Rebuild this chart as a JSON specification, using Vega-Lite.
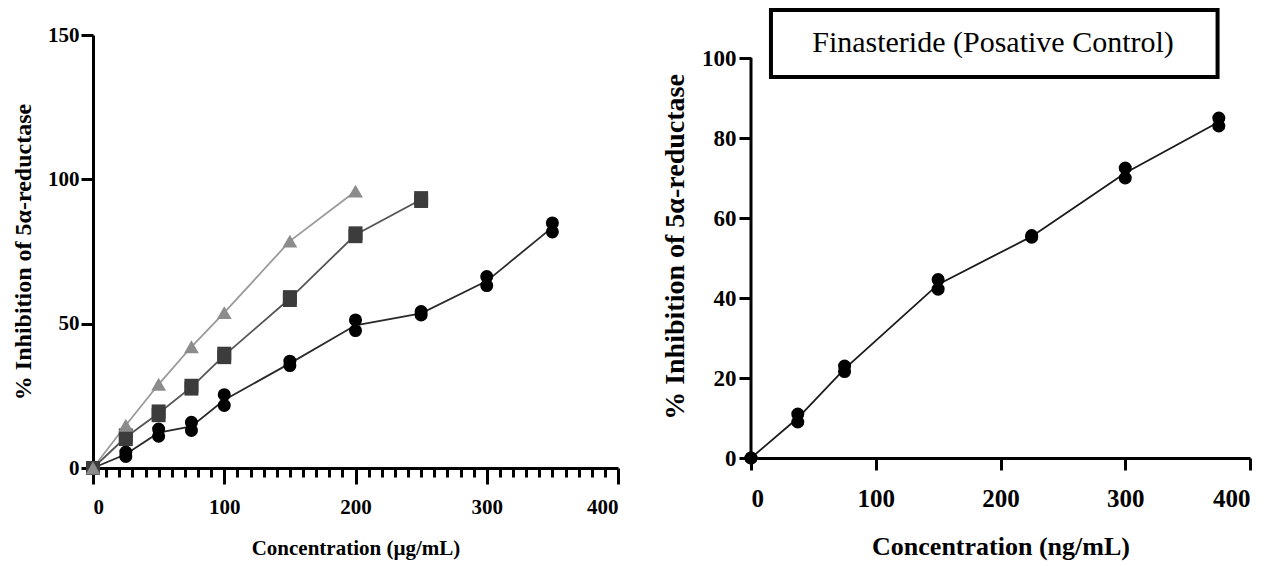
{
  "$schema": "https://vega.github.io/schema/vega-lite/v6.json",
  "background": "white",
  "padding": {"left": 11, "top": 8, "right": 5, "bottom": 2},
  "config": {
    "view": {"stroke": null},
    "font": "Liberation Serif",
    "axis": {
      "domainColor": "#000", "domainWidth": 3, "tickColor": "#000", "tickWidth": 3,
      "grid": false, "labelFont": "Liberation Serif", "labelFontWeight": "bold", "labelColor": "#000",
      "titleFont": "Liberation Serif", "titleFontWeight": "bold", "titleColor": "#000"
    }
  },
  "datasets": {
    "extracts": [
      {"conc": 0, "inhibition": 0, "series": "A"},
      {"conc": 0, "inhibition": 0, "series": "A"},
      {"conc": 25, "inhibition": 4, "series": "A"},
      {"conc": 25, "inhibition": 5.5, "series": "A"},
      {"conc": 50, "inhibition": 11, "series": "A"},
      {"conc": 50, "inhibition": 13.5, "series": "A"},
      {"conc": 75, "inhibition": 13, "series": "A"},
      {"conc": 75, "inhibition": 15.8, "series": "A"},
      {"conc": 100, "inhibition": 21.7, "series": "A"},
      {"conc": 100, "inhibition": 25.4, "series": "A"},
      {"conc": 150, "inhibition": 35.5, "series": "A"},
      {"conc": 150, "inhibition": 37, "series": "A"},
      {"conc": 200, "inhibition": 47.6, "series": "A"},
      {"conc": 200, "inhibition": 51.3, "series": "A"},
      {"conc": 250, "inhibition": 53, "series": "A"},
      {"conc": 250, "inhibition": 54.2, "series": "A"},
      {"conc": 300, "inhibition": 63.2, "series": "A"},
      {"conc": 300, "inhibition": 66.3, "series": "A"},
      {"conc": 350, "inhibition": 81.8, "series": "A"},
      {"conc": 350, "inhibition": 84.9, "series": "A"},
      {"conc": 0, "inhibition": 0, "series": "B"},
      {"conc": 25, "inhibition": 10, "series": "B"},
      {"conc": 25, "inhibition": 11.3, "series": "B"},
      {"conc": 50, "inhibition": 18.3, "series": "B"},
      {"conc": 50, "inhibition": 19.6, "series": "B"},
      {"conc": 75, "inhibition": 27.5, "series": "B"},
      {"conc": 75, "inhibition": 28.5, "series": "B"},
      {"conc": 100, "inhibition": 38.4, "series": "B"},
      {"conc": 100, "inhibition": 39.6, "series": "B"},
      {"conc": 150, "inhibition": 58.2, "series": "B"},
      {"conc": 150, "inhibition": 59.2, "series": "B"},
      {"conc": 200, "inhibition": 80.3, "series": "B"},
      {"conc": 200, "inhibition": 81.3, "series": "B"},
      {"conc": 250, "inhibition": 92.5, "series": "B"},
      {"conc": 250, "inhibition": 93.5, "series": "B"},
      {"conc": 0, "inhibition": 0, "series": "C"},
      {"conc": 25, "inhibition": 14.8, "series": "C"},
      {"conc": 50, "inhibition": 29, "series": "C"},
      {"conc": 75, "inhibition": 42, "series": "C"},
      {"conc": 100, "inhibition": 53.8, "series": "C"},
      {"conc": 150, "inhibition": 78.6, "series": "C"},
      {"conc": 200, "inhibition": 95.9, "series": "C"}
    ],
    "finasteride": [
      {"conc": 0, "inhibition": 0},
      {"conc": 0, "inhibition": 0},
      {"conc": 37.5, "inhibition": 9},
      {"conc": 37.5, "inhibition": 11},
      {"conc": 75, "inhibition": 21.6},
      {"conc": 75, "inhibition": 23},
      {"conc": 150, "inhibition": 42.2},
      {"conc": 150, "inhibition": 44.6},
      {"conc": 225, "inhibition": 55.2},
      {"conc": 225, "inhibition": 55.6},
      {"conc": 300, "inhibition": 70},
      {"conc": 300, "inhibition": 72.5},
      {"conc": 375, "inhibition": 83},
      {"conc": 375, "inhibition": 85}
    ],
    "box": [
      {"x0": 16, "x1": 374, "y0": 95.25, "y1": 112, "xm": 194, "ym": 103.8, "label": "Finasteride (Posative Control)"}
    ],
    "yaxis": [
      {"x": 0, "y0": 0, "y1": 100}
    ]
  },
  "hconcat": [
    {
      "width": 525,
      "height": 433,
      "data": {"name": "extracts"},
      "resolve": {"scale": {"color": "independent"}},
      "encoding": {
        "x": {
          "field": "conc", "type": "quantitative",
          "scale": {"domain": [0, 400], "nice": false},
          "axis": {
            "values": [0,10,20,30,40,50,60,70,80,90,100,110,120,130,140,150,160,170,180,190,200,210,220,230,240,250,260,270,280,290,300,310,320,330,340,350,360,370,380,390,400],
            "labelExpr": "datum.value % 100 === 0 ? datum.label : ''",
            "tickSize": {"condition": {"test": "datum.value % 100 === 0", "value": 16}, "value": 9},
            "labelFontSize": 21, "labelPadding": 12,
            "title": "Concentration (µg/mL)", "titleFontSize": 21, "titlePadding": 20
          }
        },
        "y": {
          "field": "inhibition", "type": "quantitative",
          "scale": {"domain": [0, 150], "nice": false},
          "axis": {
            "values": [0, 50, 100, 150], "tickSize": 12, "labelFontSize": 21, "labelPadding": 2,
            "title": "% Inhibition of 5α-reductase", "titleFontSize": 24, "titlePadding": 12
          }
        }
      },
      "layer": [
        {
          "mark": {"type": "line", "strokeWidth": 1.8},
          "encoding": {
            "y": {"aggregate": "mean", "field": "inhibition", "type": "quantitative"},
            "color": {
              "field": "series", "type": "nominal",
              "scale": {"domain": ["A", "B", "C"], "range": ["#2a2a2a", "#555555", "#9a9a9a"]},
              "legend": null
            }
          }
        },
        {
          "mark": {"type": "point", "filled": true, "opacity": 1},
          "encoding": {
            "color": {
              "field": "series", "type": "nominal",
              "scale": {"domain": ["A", "B", "C"], "range": ["#000000", "#3c3c3c", "#8c8c8c"]},
              "legend": null
            },
            "shape": {
              "field": "series", "type": "nominal",
              "scale": {"domain": ["A", "B", "C"], "range": ["circle", "square", "triangle-up"]},
              "legend": null
            },
            "size": {
              "field": "series", "type": "nominal",
              "scale": {"domain": ["A", "B", "C"], "range": [170, 220, 200]},
              "legend": null
            }
          }
        }
      ]
    },
    {
      "width": 499,
      "height": 423,
      "layer": [
        {
          "data": {"name": "yaxis"},
          "mark": {"type": "rule", "strokeWidth": 3, "color": "#000"},
          "encoding": {
            "x": {"field": "x", "type": "quantitative"},
            "y": {"field": "y0", "type": "quantitative"},
            "y2": {"field": "y1"}
          }
        },
        {
          "data": {"name": "finasteride"},
          "mark": {"type": "line", "strokeWidth": 1.8, "color": "#1a1a1a"},
          "encoding": {
            "x": {"field": "conc", "type": "quantitative"},
            "y": {"aggregate": "mean", "field": "inhibition", "type": "quantitative"}
          }
        },
        {
          "data": {"name": "finasteride"},
          "mark": {"type": "circle", "size": 170, "color": "#000", "opacity": 1},
          "encoding": {
            "x": {"field": "conc", "type": "quantitative"},
            "y": {"field": "inhibition", "type": "quantitative"}
          }
        },
        {
          "data": {"name": "box"},
          "mark": {"type": "rect", "fill": "white", "stroke": "#000", "strokeWidth": 4},
          "encoding": {
            "x": {"field": "x0", "type": "quantitative"},
            "x2": {"field": "x1"},
            "y": {"field": "y0", "type": "quantitative"},
            "y2": {"field": "y1"}
          }
        },
        {
          "data": {"name": "box"},
          "mark": {"type": "text", "font": "Liberation Serif", "fontSize": 30, "color": "#000", "align": "center", "baseline": "middle"},
          "encoding": {
            "x": {"field": "xm", "type": "quantitative"},
            "y": {"field": "ym", "type": "quantitative"},
            "text": {"field": "label"}
          }
        }
      ],
      "encoding": {
        "x": {
          "scale": {"domain": [0, 400], "nice": false},
          "axis": {
            "values": [0, 100, 200, 300, 400], "tickSize": 12, "labelFontSize": 25, "labelPadding": 16,
            "title": "Concentration (ng/mL)", "titleFontSize": 26, "titlePadding": 22
          }
        },
        "y": {
          "scale": {"domain": [0, 105.75], "nice": false},
          "axis": {
            "values": [0, 20, 40, 60, 80, 100], "domain": false, "tickSize": 12, "labelFontSize": 23, "labelPadding": 3,
            "title": "% Inhibition of 5α-reductase", "titleFontSize": 28, "titlePadding": 12
          }
        }
      }
    }
  ],
  "spacing": 41
}
